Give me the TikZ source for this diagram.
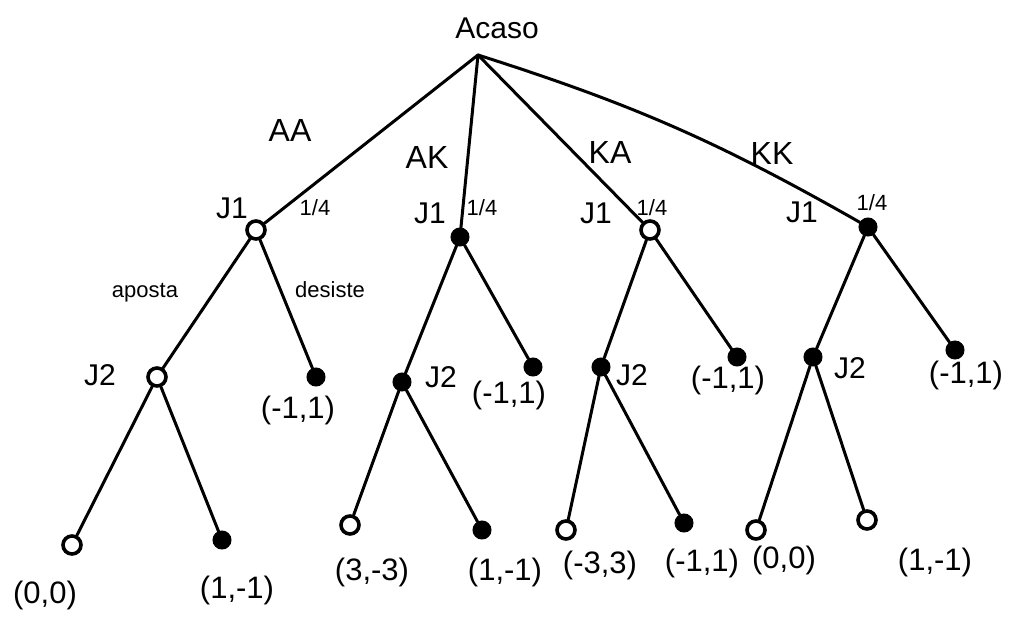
\documentclass[tikz,border=0pt]{standalone}
\usepackage{fontspec}
\setmainfont{Liberation Sans}
\begin{document}
\begin{tikzpicture}[x=1pt,y=-1pt,
  edge/.style={line width=3pt, line cap=round},
  dotnode/.style={circle, draw, line width=3pt, fill=black, inner sep=0pt, minimum size=16pt},
  ringnode/.style={circle, draw, line width=3.6pt, fill=white, inner sep=0pt, minimum size=18pt},
  lbl/.style={font=\fontsize{31}{31}\selectfont, inner sep=1pt},
  clbl/.style={font=\fontsize{32}{32}\selectfont, inner sep=1pt},
  plbl/.style={font=\fontsize{30}{30}\selectfont, inner sep=1pt},
  small/.style={font=\fontsize{22}{22}\selectfont, inner sep=1pt}]
\useasboundingbox (0,0) rectangle (1016,634);
% root
\coordinate (r) at (478,55);
\node[clbl, font=\fontsize{30}{30}\selectfont] (acaso) at (497,28) {Acaso};
% J1 nodes
\node[ringnode] (j1a) at (256,230) {};
\node[dotnode] (j1b) at (460,237) {};
\node[ringnode] (j1c) at (650,230) {};
\node[dotnode] (j1d) at (868,227) {};
% J2 nodes
\node[ringnode] (j2a) at (157,377) {};
\node[dotnode] (j2b) at (402,382) {};
\node[dotnode] (j2c) at (601,367) {};
\node[dotnode] (j2d) at (813,357) {};
% desiste leaves
\node[dotnode] (da) at (316,377) {};
\node[dotnode] (db) at (533,367) {};
\node[dotnode] (dc) at (737,357) {};
\node[dotnode] (dd) at (955,350) {};
% terminal leaves
\node[ringnode] (la1) at (72,545) {};
\node[dotnode] (la2) at (222,540) {};
\node[ringnode] (lb1) at (350,525) {};
\node[dotnode] (lb2) at (482,530) {};
\node[ringnode] (lc1) at (566,530) {};
\node[dotnode] (lc2) at (684,523) {};
\node[ringnode] (ld1) at (756,530) {};
\node[ringnode] (ld2) at (867,520) {};
% edges from root
\draw[edge] (r) -- (j1a);
\draw[edge] (r) -- (j1b);
\draw[edge] (r) -- (j1c);
\draw[edge] (r) to[bend left=6] (j1d);
% edges from J1
\draw[edge] (j1a) -- (j2a);
\draw[edge] (j1a) -- (da);
\draw[edge] (j1b) -- (j2b);
\draw[edge] (j1b) -- (db);
\draw[edge] (j1c) -- (j2c);
\draw[edge] (j1c) -- (dc);
\draw[edge] (j1d) -- (j2d);
\draw[edge] (j1d) -- (dd);
% edges from J2
\draw[edge] (j2a) -- (la1);
\draw[edge] (j2a) -- (la2);
\draw[edge] (j2b) -- (lb1);
\draw[edge] (j2b) -- (lb2);
\draw[edge] (j2c) -- (lc1);
\draw[edge] (j2c) -- (lc2);
\draw[edge] (j2d) -- (ld1);
\draw[edge] (j2d) -- (ld2);
% chance labels
\node[clbl] (tAA) at (290,130) {AA};
\node[clbl] (tAK) at (427,157) {AK};
\node[clbl] (tKA) at (610,152) {KA};
\node[clbl] (tKK) at (772,153) {KK};
\node[small] (pa) at (315,208) {1/4};
\node[small] (pb) at (482,208) {1/4};
\node[small] (pc) at (652,208) {1/4};
\node[small] (pd) at (872,203) {1/4};
% player labels
\node[plbl] (n1a) at (232,208) {J1};
\node[plbl] (n1b) at (430,213) {J1};
\node[plbl] (n1c) at (596,213) {J1};
\node[plbl] (n1d) at (802,212) {J1};
\node[plbl] (n2a) at (100,375) {J2};
\node[plbl] (n2b) at (441,377) {J2};
\node[plbl] (n2c) at (632,375) {J2};
\node[plbl] (n2d) at (850,368) {J2};
% action labels
\node[small] (ap) at (145,293) {aposta};
\node[small] (de) at (330,290) {desiste};
% payoffs
\node[lbl] (va) at (298,410) {(-1,1)};
\node[lbl] (vb) at (509,395) {(-1,1)};
\node[lbl] (vc) at (728,380) {(-1,1)};
\node[lbl] (vd) at (966,375) {(-1,1)};
\node[lbl] (v1) at (45,595) {(0,0)};
\node[lbl] (v2) at (237,590) {(1,-1)};
\node[lbl] (v3) at (372,572) {(3,-3)};
\node[lbl] (v4) at (505,572) {(1,-1)};
\node[lbl] (v5) at (600,565) {(-3,3)};
\node[lbl] (v6) at (702,563) {(-1,1)};
\node[lbl] (v7) at (784,560) {(0,0)};
\node[lbl] (v8) at (935,562) {(1,-1)};
\end{tikzpicture}
\end{document}
